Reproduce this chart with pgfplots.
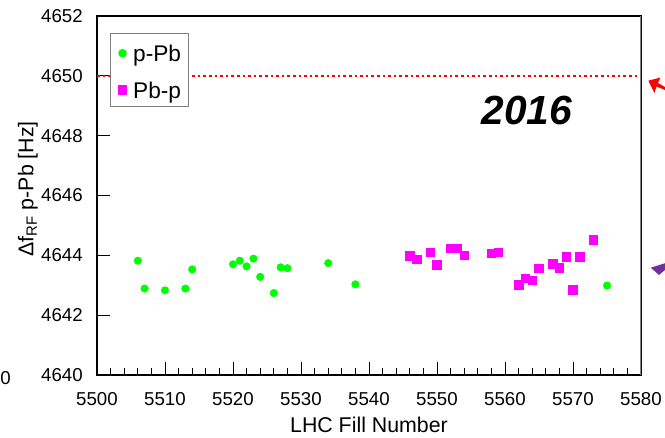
\documentclass[border=0pt]{standalone}
\usepackage{fontspec}
\setmainfont{Liberation Sans}
\usepackage{pgfplots}
\pgfplotsset{compat=1.18}
\definecolor{rootgreen}{RGB}{0,255,0}
\definecolor{rootmag}{RGB}{255,0,255}
\definecolor{rootpurple}{RGB}{112,48,160}
\newcommand{\tfont}{\fontsize{14}{17}\selectfont}
\newcommand{\lfont}{\fontsize{16}{19}\selectfont}
\newcommand{\gfont}{\fontsize{17}{20}\selectfont}
\pgfplotsset{legimg/.style={legend image code/.code={\path[draw=none,fill=none] (0pt,0pt) rectangle (16pt,1pt);
    \draw[##1] plot coordinates {(9pt,-1.25pt)};}}}
\begin{document}
\begin{tikzpicture}
\useasboundingbox (-72.75pt,-47.25pt) rectangle (426pt,281.25pt);
\begin{axis}[
  at={(0pt,0pt)}, anchor=south west,
  scale only axis, width=408pt, height=269.25pt,
  xmin=5500, xmax=5580, ymin=4640, ymax=4652,
  xtick={5500,5510,...,5580}, ytick={4640,4642,...,4652},
  minor x tick num=4, minor y tick num=3,
  tick align=inside, xtick pos=bottom, ytick pos=left,
  major tick length=10pt, minor tick length=5pt,
  tick style={black, line width=0.6pt},
  axis line style={black, line width=0.8pt},
  /pgf/number format/1000 sep={},
  /pgf/number format/assume math mode=true,
  ticklabel style={font=\tfont, inner sep=0pt},
  xticklabel style={anchor=center, yshift=-18pt},
  yticklabel style={anchor=east, xshift=-10.5pt},
  xlabel={LHC Fill Number},
  ylabel={Δf\textsubscript{RF} p-Pb [Hz]},
  xlabel style={at={(axis description cs:0.5,-0.139)}, anchor=center, font=\lfont},
  ylabel style={at={(axis description cs:-0.127,0.518)}, anchor=center, font=\lfont},
  legend style={at={(0.0239,0.9526)}, anchor=north west, draw=gray, line width=0.8pt,
    font=\gfont, inner xsep=0pt, inner ysep=2.25pt, row sep=5.25pt, fill=white,
    nodes={inner xsep=1pt, inner ysep=0pt, text height=18.5pt, text depth=4pt}},
  legend cell align=left,
]
\addplot[red, line width=1.2pt, dash pattern=on 2pt off 2.2pt, forget plot]
  coordinates {(5500,4650) (5580,4650)};
\addplot[only marks, mark=*, mark size=2.8pt, color=rootgreen,
  mark options={draw=rootgreen, fill=rootgreen}, legimg]
  coordinates {
  (5506,4643.82) (5507,4642.89) (5510,4642.83) (5513,4642.89) (5514,4643.53)
  (5520,4643.70) (5521,4643.82) (5522,4643.63) (5523,4643.89) (5524,4643.28)
  (5526,4642.74) (5527,4643.60) (5528,4643.57) (5534,4643.74) (5538,4643.03)
  (5575,4642.99)
  };
\addlegendentry{\makebox[40.5pt][l]{p-Pb}}
\addplot[only marks, mark=square*, mark size=3.2pt, color=rootmag,
  mark options={draw=rootmag, fill=rootmag}, legimg]
  coordinates {
  (5546,4643.98) (5547,4643.87) (5549,4644.10) (5550,4643.69) (5552,4644.24)
  (5553,4644.24) (5554,4644.00) (5558,4644.07) (5559,4644.11) (5562,4643.01)
  (5563,4643.24) (5564,4643.17) (5565,4643.56) (5567,4643.72) (5568,4643.59)
  (5569,4643.95) (5570,4642.85) (5571,4643.95) (5573,4644.52)
  };
\addlegendentry{\makebox[40.5pt][l]{Pb-p}}
\node at (axis cs:5563.2,4648.85) {\fontsize{30.5}{30}\selectfont\bfseries\itshape 2016};
\draw[gray, line width=0.8pt] (rel axis cs:1,0) -- (rel axis cs:1,1);
\end{axis}
\fill[red] (413.5pt,220.7pt) -- (422.6pt,223.1pt) -- (420.75pt,219pt) -- (426pt,216pt)
  -- (426pt,213.75pt) -- (419.6pt,216.4pt) -- (418.1pt,211.5pt) -- cycle;
\fill[rootpurple] (415.3pt,80.5pt) -- (426pt,83.8pt) -- (426pt,78.75pt) -- (421.5pt,75pt) -- cycle;
\node[anchor=west, font=\tfont, inner sep=0pt] at (-72.75pt,-2.5pt) {0};
\end{tikzpicture}
\end{document}
